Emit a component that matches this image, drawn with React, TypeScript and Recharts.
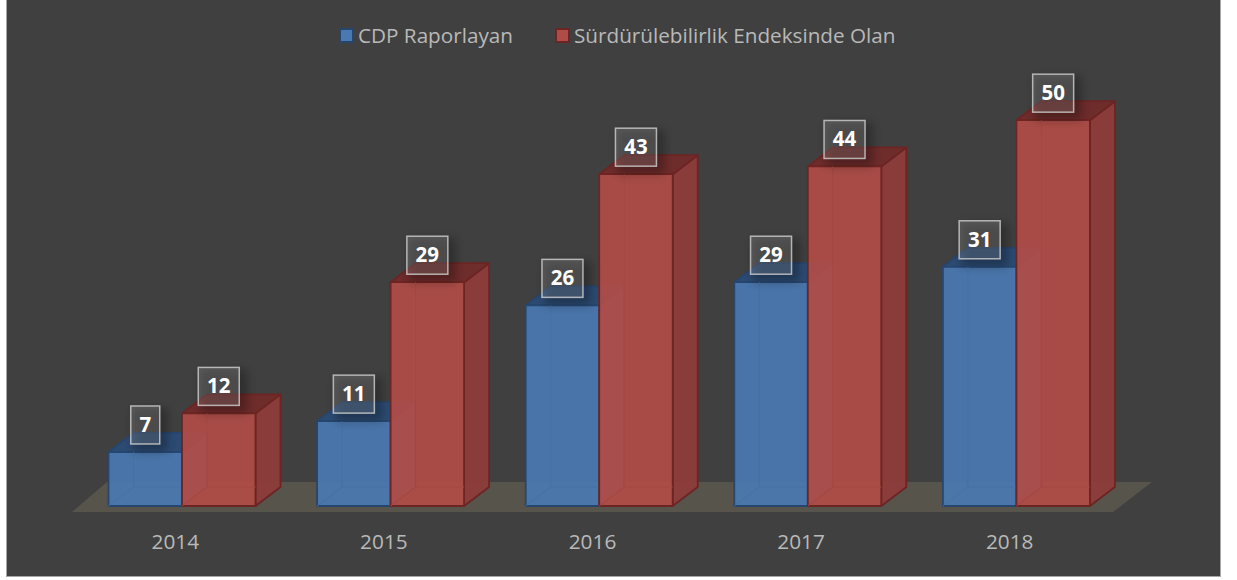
import React from 'react';
import { BarChart, Bar, XAxis, YAxis, Legend, LabelList, Customized, usePlotArea } from 'recharts';

const years = ['2014', '2015', '2016', '2017', '2018'];
const cdpValues = [7, 11, 26, 29, 31];
const indexValues = [12, 29, 43, 44, 50];

const data = years.map((year, i) => ({ year, cdp: cdpValues[i], index: indexValues[i] }));

const FONT = '"Open Sans", sans-serif';
const DEPTH_X = 25;
const DEPTH_Y = 19;

const BLUE = { front: '#4a78b2', side: '#3e618f', top: '#2c4c76', edge: '#26466f' };
const RED = { front: '#b04c47', side: '#8c3c3a', top: '#702c2b', edge: '#6c2522' };

function Box3D(props: any) {
  const { x, y, width, height, colors } = props;
  const r = x + width;
  const b = y + height;
  return (
    <g stroke={colors.edge} strokeWidth={1.8} strokeLinejoin="round">
      <polygon
        points={`${r},${y} ${r + DEPTH_X},${y - DEPTH_Y} ${r + DEPTH_X},${b - DEPTH_Y} ${r},${b}`}
        fill={colors.side}
        fillOpacity={0.96}
      />
      <polygon
        points={`${x},${y} ${x + DEPTH_X},${y - DEPTH_Y} ${r + DEPTH_X},${y - DEPTH_Y} ${r},${y}`}
        fill={colors.top}
        fillOpacity={0.96}
      />
      <rect x={x} y={y} width={width} height={height} fill={colors.front} fillOpacity={0.93} />
      {/* hidden edges showing through the glassy front */}
      <g stroke={colors.front} strokeWidth={1} style={{ filter: 'brightness(0.93)' }}>
        <line x1={x + DEPTH_X} y1={y} x2={x + DEPTH_X} y2={b - DEPTH_Y} />
        <line x1={x + DEPTH_X} y1={b - DEPTH_Y} x2={r} y2={b - DEPTH_Y} />
        <line x1={x} y1={b} x2={x + DEPTH_X} y2={b - DEPTH_Y} />
      </g>
    </g>
  );
}

function ValueTag(props: any) {
  const { x, y, width, value } = props;
  const boxW = String(value).length > 1 ? 41 : 29;
  const boxH = 38;
  const cx = x + width / 2;
  const top = y - 46;
  return (
    <g>
      <rect x={cx - boxW / 2 + 2} y={top + 2} width={boxW + 6} height={boxH + 6} fill="#000" fillOpacity={0.28} filter="url(#tagShadow)" />
      <rect
        x={cx - boxW / 2}
        y={top}
        width={boxW}
        height={boxH}
        fill="#ffffff"
        fillOpacity={0.14}
        stroke="#c9c9c9"
        strokeOpacity={0.85}
        strokeWidth={1.5}
      />
      <text x={cx} y={top + 26} textAnchor="middle" fill="#fff" fontFamily={FONT} fontWeight={700} fontSize={20.5}>
        {value}
      </text>
    </g>
  );
}

function Floor() {
  const plot = usePlotArea();
  if (!plot) return null;
  const base = plot.y + plot.height;
  const left = plot.x;
  const right = plot.x + plot.width;
  return (
    <g>
      <defs>
        <filter id="tagShadow" x="-50%" y="-50%" width="200%" height="200%">
          <feGaussianBlur stdDeviation="5" />
        </filter>
      </defs>
      <polygon
        points={`${left - 5.5},${base + 6} ${right - 7.5},${base + 6} ${right + 31.5},${base - 24} ${left + 29.5},${base - 24}`}
        fill="#57544c"
      />
    </g>
  );
}

function TopLegend() {
  const items = [
    { label: 'CDP Raporlayan', c: BLUE, x: 339 },
    { label: 'Sürdürülebilirlik Endeksinde Olan', c: RED, x: 555 },
  ];
  return (
    <div style={{ position: 'relative', height: 30, fontFamily: FONT }}>
      {items.map(item => (
        <div key={item.label} style={{ position: 'absolute', left: item.x, top: 0, display: 'flex', alignItems: 'center', height: 30 }}>
          <span
            style={{
              display: 'inline-block',
              boxSizing: 'border-box',
              width: 15,
              height: 15,
              background: item.c.front,
              border: `2px solid ${item.c.edge}`,
              marginRight: 4,
            }}
          />
          <span style={{ color: '#b9b9b9', fontSize: 20.7, whiteSpace: 'nowrap' }}>{item.label}</span>
        </div>
      ))}
    </div>
  );
}

export default function App() {
  return (
    <div style={{ position: 'absolute', left: 0, top: 0, width: 1237, height: 580, background: '#fff', overflow: 'hidden' }}>
      <div
        style={{
          position: 'absolute',
          left: 6,
          top: -2,
          width: 1213,
          height: 577,
          background: '#404040',
          border: '1px solid #a6a6a6',
        }}
      />
      <div style={{ position: 'absolute', left: 0, top: 0 }}>
        <BarChart
          width={1237}
          height={580}
          data={data}
          barSize={73.5}
          barGap={0}
          margin={{ top: 13, right: 116.5, bottom: 44, left: 77.5 }}
        >
          <Customized component={Floor} />
          <XAxis
            dataKey="year"
            axisLine={false}
            tickLine={false}
            height={30}
            tickMargin={22}
            tick={{ fill: '#b9b9b9', fontSize: 20.8, fontFamily: FONT, dx: -6.5 }}
          />
          <YAxis hide domain={[0, 60]} />
          <Legend
            verticalAlign="top"
            content={() => <TopLegend />}
            wrapperStyle={{ position: 'absolute', left: 0, top: 20, width: 1237 }}
          />
          <Bar
            dataKey="cdp"
            name="CDP Raporlayan"
            isAnimationActive={false}
            shape={(p: any) => <Box3D {...p} colors={BLUE} />}
          >
            <LabelList dataKey="cdp" content={ValueTag} />
          </Bar>
          <Bar
            dataKey="index"
            name="Sürdürülebilirlik Endeksinde Olan"
            isAnimationActive={false}
            shape={(p: any) => <Box3D {...p} colors={RED} />}
          >
            <LabelList dataKey="index" content={ValueTag} />
          </Bar>
        </BarChart>
      </div>
    </div>
  );
}
